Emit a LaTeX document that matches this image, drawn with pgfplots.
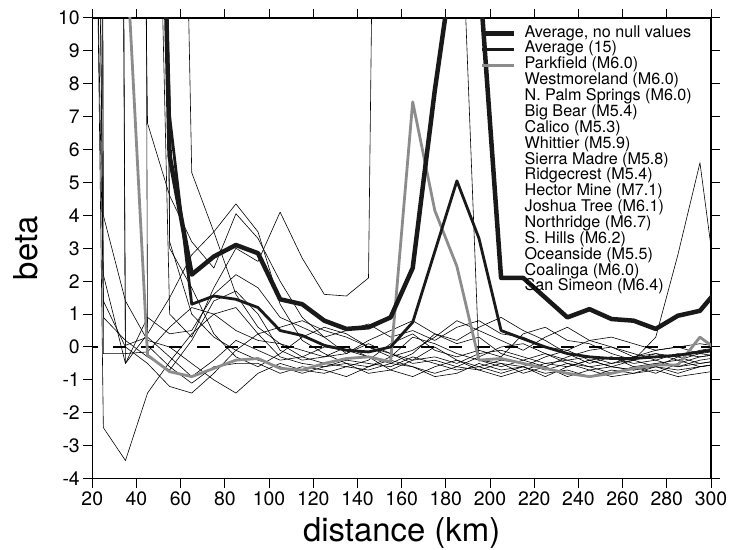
\documentclass[border=0pt]{standalone}
\usepackage{pgfplots}
\pgfplotsset{compat=1.18}
\usepackage{fontspec}
\setmainfont{TeX Gyre Heros}
\begin{document}
\begin{tikzpicture}
\begin{axis}[
  scale only axis, width=618.7bp, height=460.6bp,
  xmin=20, xmax=300, ymin=-4, ymax=10,
  xtick={20,40,...,300}, ytick={-4,-3,...,10},
  tick align=outside, major tick length=9bp,
  every tick/.style={black, line width=1bp},
  axis line style={line width=1.2bp, black},
  /pgf/number format/assume math mode=true,
  tick label style={font=\fontsize{19.5}{20}\selectfont},
  xticklabel style={yshift=-1bp},
  every axis x label/.style={at={(rel axis cs:0.5,0)}, anchor=base, yshift=-62.4bp, font=\fontsize{33}{36}\selectfont},
  every axis y label/.style={at={(rel axis cs:0,0.5)}, anchor=center, xshift=-66.6bp, rotate=90, font=\fontsize{33}{36}\selectfont},
  xlabel={distance (km)}, ylabel={beta},
  reverse legend,
  legend style={at={(rel axis cs:0.6266,0.984)}, anchor=north west, draw=none, fill=none,
    inner sep=0pt, row sep=0pt,
    font=\fontsize{16.2}{16}\selectfont,
    nodes={inner sep=0pt, text height=11.5bp, text depth=4.37bp},
    /tikz/every odd column/.append style={column sep=8bp}},
  legend cell align=left,
  legend image code/.code={\draw[#1, line cap=butt] (0bp,0bp) -- (32bp,0bp);},
  thin/.style={black, line width=0.6bp, line join=round, legend image code/.code={}},
]
\addplot[black, line width=1.2bp, dash pattern=on 13bp off 15bp, dash phase=7bp, forget plot] coordinates {(20,0) (300,0)};
% San Simeon
\addplot[thin] coordinates {(45,100) (55,3.2) (65,1.0) (75,0.3) (85,-0.1) (95,-0.4) (105,-0.6) (115,-0.8) (125,-0.6) (135,-0.5) (145,-0.8) (155,-0.7) (165,-0.9) (175,-0.6) (185,-0.4) (195,-0.7) (205,-0.5) (215,-0.8) (225,-0.6) (235,-0.9) (245,-0.7) (255,-0.9) (265,-0.8) (275,-0.7) (285,-0.9) (295,-0.8) (305,-0.7)};
\addlegendentry{San Simeon (M6.4)}
% Coalinga
\addplot[thin] coordinates {(15,80) (25,0.9) (35,0.2) (45,-0.3) (55,-0.7) (65,0.2) (75,1.4) (85,1.7) (95,1.0) (105,-0.1) (115,-0.4) (125,-0.3) (135,0.0) (145,-0.3) (155,-0.7) (165,-0.4) (175,0.0) (185,-0.4) (195,-0.6) (205,-0.8) (215,-0.6) (225,-0.9) (235,-0.6) (245,-0.4) (255,-0.6) (265,-0.7) (275,-0.6) (285,-0.3) (295,-0.5) (305,-0.4)};
\addlegendentry{Coalinga (M6.0)}
% Oceanside
\addplot[thin] coordinates {(45,30) (55,1.0) (65,0.3) (75,1.8) (85,3.0) (95,2.6) (105,4.1) (115,2.7) (125,1.6) (135,1.55) (145,2.1) (155,60) (165,50) (175,30) (185,17) (195,-0.4) (205,-0.6) (215,-0.4) (225,-0.2) (235,-0.5) (245,-0.7) (255,-0.6) (265,-0.4) (275,-0.6) (285,-0.8) (295,-0.6) (305,-0.5)};
\addlegendentry{Oceanside (M5.5)}
% S. Hills
\addplot[thin] coordinates {(55,40) (65,5.3) (75,3.5) (85,1.6) (95,0.6) (105,0.1) (115,-0.3) (125,-0.5) (135,-0.6) (145,-0.4) (155,0.1) (165,0.4) (175,-0.1) (185,-0.3) (195,-0.1) (205,-0.3) (215,0.4) (225,0.6) (235,0.2) (245,0.1) (255,-0.2) (265,-0.4) (275,0.3) (285,2.8) (295,5.6) (305,0.5)};
\addlegendentry{S. Hills (M6.2)}
% Northridge
\addplot[thin] coordinates {(45,80) (55,3.0) (65,1.8) (75,0.4) (85,-0.3) (95,-0.6) (105,-0.2) (115,0.3) (125,0.6) (135,0.4) (145,0.0) (155,-0.3) (165,-0.1) (175,0.3) (185,0.8) (195,0.5) (205,0.2) (215,-0.1) (225,0.3) (235,0.6) (245,0.2) (255,0.0) (265,-0.3) (275,-0.2) (285,-0.4) (295,-0.2) (305,-0.3)};
\addlegendentry{Northridge (M6.7)}
% Joshua Tree
\addplot[thin] coordinates {(35,200) (45,0.05) (55,-0.6) (65,-1.1) (75,-0.6) (85,-0.5) (95,-0.5) (105,-0.8) (115,-0.6) (125,-0.7) (135,-0.9) (145,-0.6) (155,-0.4) (165,-0.6) (175,-0.9) (185,-0.8) (195,-0.5) (205,-0.7) (215,-0.6) (225,-0.8) (235,-0.7) (245,-0.9) (255,-0.7) (265,-0.8) (275,-0.6) (285,-0.7) (295,-0.6) (305,-0.5)};
\addlegendentry{Joshua Tree (M6.1)}
% Hector Mine
\addplot[thin] coordinates {(35,60) (45,6.8) (55,4.6) (65,3.2) (75,2.4) (85,4.05) (95,3.3) (105,2.0) (115,0.9) (125,0.3) (135,-0.2) (145,0.2) (155,0.5) (165,0.8) (175,0.4) (185,0.1) (195,0.3) (205,-0.2) (215,-0.4) (225,-0.6) (235,-0.3) (245,-0.1) (255,0.0) (265,-0.2) (275,-0.4) (285,-0.2) (295,-0.3) (305,-0.2)};
\addlegendentry{Hector Mine (M7.1)}
% Ridgecrest
\addplot[thin] coordinates {(25,120) (35,0.05) (45,0.3) (55,-0.3) (65,-0.9) (75,-0.4) (85,0.2) (95,-0.1) (105,-0.4) (115,-0.3) (125,0.0) (135,-0.1) (145,-0.3) (155,-0.5) (165,-0.2) (175,0.4) (185,0.2) (195,0.6) (205,0.9) (215,0.5) (225,0.2) (235,-0.2) (245,-0.5) (255,-0.3) (265,-0.6) (275,-0.8) (285,-0.5) (295,-0.3) (305,-0.2)};
\addlegendentry{Ridgecrest (M5.4)}
% Sierra Madre
\addplot[thin] coordinates {(25,150) (35,-0.5) (45,0.9) (55,0.4) (65,0.5) (75,1.6) (85,2.2) (95,1.8) (105,0.9) (115,0.6) (125,0.3) (135,0.5) (145,0.7) (155,0.3) (165,0.5) (175,0.2) (185,0.6) (195,0.8) (205,0.4) (215,0.3) (225,0.0) (235,-0.1) (245,0.2) (255,0.3) (265,0.1) (275,-0.1) (285,0.0) (295,-0.2) (305,-0.1)};
\addlegendentry{Sierra Madre (M5.8)}
% Whittier
\addplot[thin] coordinates {(15,300) (25,4.0) (35,1.4) (45,0.2) (55,0.0) (65,-0.5) (75,-1.0) (85,-1.4) (95,-0.8) (105,-0.5) (115,-0.7) (125,-0.8) (135,-0.6) (145,-0.7) (155,-0.5) (165,-0.6) (175,-0.8) (185,-0.6) (195,-0.7) (205,-0.9) (215,-0.7) (225,-0.5) (235,-0.4) (245,-0.6) (255,-0.5) (265,-0.3) (275,-0.1) (285,0.0) (295,0.1) (305,0.0)};
\addlegendentry{Whittier (M5.9)}
% Calico
\addplot[thin] coordinates {(15,40) (25,1.4) (35,0.0) (45,-0.5) (55,-1.2) (65,-1.4) (75,-0.8) (85,-0.1) (95,0.4) (105,0.6) (115,0.8) (125,0.5) (135,0.3) (145,0.0) (155,-0.2) (165,-0.5) (175,-0.4) (185,-0.6) (195,-0.3) (205,0.0) (215,0.1) (225,-0.2) (235,-0.4) (245,-0.3) (255,-0.5) (265,-0.4) (275,-0.2) (285,-0.3) (295,-0.1) (305,0.0)};
\addlegendentry{Calico (M5.3)}
% Big Bear
\addplot[thin] coordinates {(15,60) (25,2.2) (35,-0.5) (45,0.4) (55,1.5) (65,2.8) (75,3.5) (85,4.35) (95,3.5) (105,1.3) (115,0.2) (125,-0.2) (135,-0.5) (145,-0.6) (155,-0.3) (165,0.3) (175,0.1) (185,-0.2) (195,-0.4) (205,-0.5) (215,-0.6) (225,-0.3) (235,-0.1) (245,-0.4) (255,-0.6) (265,-0.7) (275,-0.5) (285,-0.4) (295,-0.6) (305,-0.5)};
\addlegendentry{Big Bear (M5.4)}
% N. Palm Springs
\addplot[thin] coordinates {(15,300) (25,-0.2) (35,-0.2) (45,-0.15) (55,0.6) (65,1.2) (75,1.0) (85,0.5) (95,0.2) (105,0.1) (115,-0.1) (125,-0.3) (135,-0.2) (145,0.1) (155,-0.2) (165,-0.4) (175,-0.3) (185,-0.5) (195,-0.2) (205,-0.1) (215,-0.3) (225,-0.5) (235,-0.6) (245,-0.4) (255,-0.3) (265,-0.5) (275,-0.4) (285,-0.6) (295,-0.4) (305,-0.3)};
\addlegendentry{N. Palm Springs (M6.0)}
% Westmoreland
\addplot[thin] coordinates {(15,50) (25,-2.45) (35,-3.45) (45,-1.4) (55,-0.45) (65,0.4) (75,1.0) (85,1.2) (95,0.4) (105,-0.3) (115,-0.5) (125,-0.6) (135,-0.4) (145,-0.5) (155,-0.6) (165,-0.3) (175,-0.5) (185,-0.7) (195,-0.6) (205,-0.4) (215,-0.5) (225,-0.7) (235,-0.5) (245,-0.6) (255,-0.8) (265,-0.6) (275,-0.5) (285,-0.6) (295,-0.5) (305,-0.4)};
\addlegendentry{Westmoreland (M6.0)}
% Parkfield
\addplot[color={rgb,255:red,140;green,140;blue,140}, line width=2.8bp, line join=round] coordinates {(25,40) (35,12.6) (45,-0.25) (55,-0.75) (65,-0.9) (75,-0.65) (85,-0.4) (95,-0.35) (105,-0.65) (115,-0.7) (125,-0.5) (135,-0.35) (145,-0.3) (155,-0.45) (165,7.45) (175,4.15) (185,2.45) (195,-0.4) (205,-0.35) (215,-0.5) (225,-0.65) (235,-0.8) (245,-0.9) (255,-0.8) (265,-0.65) (275,-0.55) (285,-0.55) (295,0.3) (305,-0.2)};
\addlegendentry{Parkfield (M6.0)}
% Average (15)
\addplot[color={rgb,255:red,25;green,25;blue,25}, line width=2.8bp, line join=round] coordinates {(35,80) (45,30) (55,7.0) (65,1.3) (75,1.55) (85,1.45) (95,1.2) (105,0.5) (115,0.35) (125,0.05) (135,-0.1) (145,-0.15) (155,0.0) (165,0.75) (175,2.9) (185,5.05) (195,3.3) (205,0.5) (215,0.25) (225,0.0) (235,-0.2) (245,-0.3) (255,-0.35) (265,-0.35) (275,-0.3) (285,-0.25) (295,-0.15) (305,-0.05)};
\addlegendentry{Average (15)}
% Average, no null values
\addplot[color={rgb,255:red,25;green,25;blue,25}, line width=4.5bp, line join=round] coordinates {(35,80) (45,35) (55,5.8) (65,2.2) (75,2.75) (85,3.1) (95,2.85) (105,1.45) (115,1.3) (125,0.8) (135,0.55) (145,0.6) (155,0.9) (165,2.4) (175,7.8) (185,12.5) (195,11.5) (205,2.1) (215,2.1) (225,1.5) (235,0.9) (245,1.15) (255,0.85) (265,0.8) (275,0.55) (285,0.95) (295,1.1) (305,1.9)};
\addlegendentry{Average, no null values}
\coordinate (bl) at (rel axis cs:0,0);
\coordinate (tr) at (rel axis cs:1,1);
\end{axis}
\pgfresetboundingbox
\path ([shift={(-92.3bp,-71.4bp)}]bl) rectangle ([shift={(19bp,18bp)}]tr);
\end{tikzpicture}
\end{document}
